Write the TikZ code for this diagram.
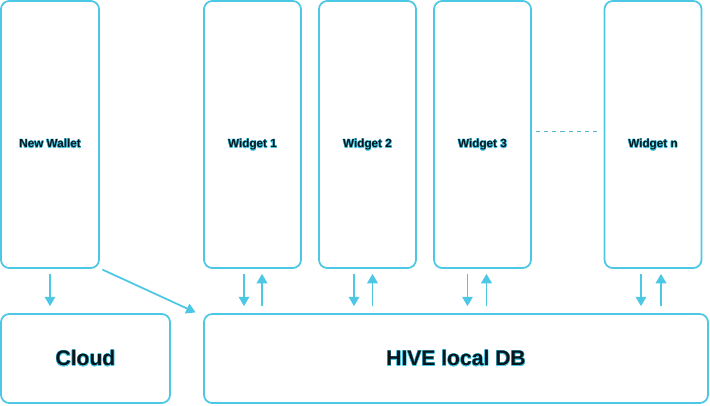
\documentclass[tikz,border=0pt]{standalone}
\usepackage{fontspec}
\setmainfont{Liberation Sans}
\usepackage{contour}
\contourlength{0.35pt}
\usetikzlibrary{arrows.meta}
\definecolor{hiveblue}{RGB}{77,200,228}
\definecolor{hivetext}{RGB}{8,22,28}
\newcommand{\hivelabel}[1]{\contour{hiveblue}{#1}}
\tikzset{
  box/.style={draw=hiveblue,line width=1.5pt,rounded corners=7pt,
    font=\bfseries\fontsize{10}{12}\selectfont,text=hivetext},
  widgetbox/.style={box,minimum height=8.01cm,text height=0.8cm,text depth=0cm},
  bigbox/.style={box,minimum height=2.67cm,font=\bfseries\fontsize{18}{21}\selectfont},
  flow/.style={draw=hiveblue,line width=1.5pt,
    -{Triangle[width=9pt,length=8pt]},shorten <=0.15cm,shorten >=0.21cm},
}
\begin{document}
\begin{tikzpicture}
  \useasboundingbox (0,0) rectangle (21.3,-12.15);

  \node[widgetbox,minimum width=2.94cm] (wallet) at (1.5,-4.035) {\hivelabel{New Wallet}};
  \foreach \x/\name/\lbl in {7.575/w1/1,11.025/w2/2,14.475/w3/3,19.59/wn/n}
    \node[widgetbox,minimum width=2.91cm] (\name) at (\x,-4.035) {\hivelabel{Widget \lbl}};

  \node[bigbox,minimum width=5.07cm] (cloud) at (2.565,-10.755) {\hivelabel{Cloud}};
  \node[bigbox,minimum width=15.12cm] (db) at (13.68,-10.755) {\hivelabel{HIVE local DB}};

  \draw[draw=hiveblue!80!gray,line width=0.7pt,dash pattern=on 3.5pt off 3.5pt]
    ([xshift=0.12cm,yshift=0.1cm]w3.east) -- ([xshift=-0.09cm,yshift=0.1cm]wn.west);

  \draw[flow] (wallet.south) -- (wallet.south |- cloud.north);
  \draw[flow,shorten <=0.05cm,shorten >=0.05cm] ([xshift=0.03cm]wallet.south east) -- ([xshift=-0.18cm]db.north west);

  \foreach \name/\dn/\up in {w1/-0.255/0.285,w2/-0.405/0.15,w3/-0.45/0.12,wn/-0.36/0.24} {
    \draw[flow] ([xshift=\dn cm]\name.south) -- ([xshift=\dn cm]\name.south |- db.north);
    \draw[flow,shorten <=0.21cm,shorten >=0.15cm] ([xshift=\up cm]\name.south |- db.north) -- ([xshift=\up cm]\name.south);
  }
\end{tikzpicture}
\end{document}
